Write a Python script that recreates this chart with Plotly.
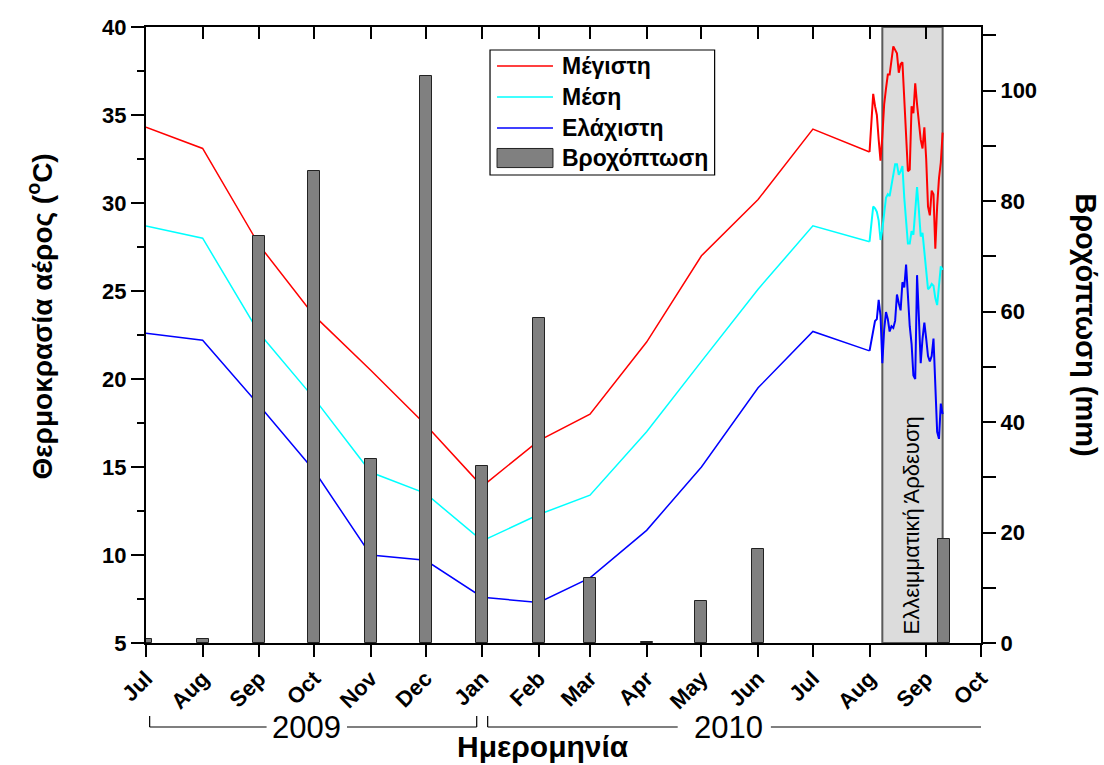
import plotly.graph_objects as go

# ---------------- data ----------------
month_dates = ["2009-07-01", "2009-08-01", "2009-09-01", "2009-10-01", "2009-11-01",
               "2009-12-01", "2010-01-01", "2010-02-01", "2010-03-01", "2010-04-01",
               "2010-05-01", "2010-06-01", "2010-07-01", "2010-08-01"]
t_max_month = [34.3, 33.1, 27.6, 23.6, 20.5, 17.4, 13.9, 16.5, 18.0, 22.1, 27.0, 30.2, 34.2, 32.9]
t_mean_month = [28.7, 28.0, 22.6, 18.9, 14.7, 13.5, 10.8, 12.3, 13.4, 17.0, 21.0, 25.1, 28.7, 27.8]
t_min_month = [22.6, 22.2, 18.5, 14.8, 10.0, 9.7, 7.6, 7.3, 8.7, 11.4, 15.0, 19.5, 22.7, 21.6]

daily_dates = ["2010-08-%02d" % d for d in range(1, 32)] + ["2010-09-%02d" % d for d in range(1, 11)]
t_max_daily = [32.9, 34.8, 36.2, 35.5, 35.0, 33.6, 32.4, 33.8, 35.6, 36.5, 37.3, 37.3, 38.2,
               38.9, 38.7, 38.5, 37.4, 37.9, 38.0, 36.0, 33.9, 31.8, 31.9, 35.5, 35.1, 36.8,
               35.6, 34.5, 33.6, 33.1, 34.3, 32.5, 29.8, 29.3, 30.7, 30.5, 27.4, 29.8, 31.4,
               32.3, 34.0]
t_mean_daily = [27.8, 29.0, 29.8, 29.7, 29.5, 29.0, 27.9, 28.5, 29.5, 30.3, 30.5, 30.4, 31.0,
                31.6, 32.2, 32.2, 31.6, 31.8, 32.1, 30.3, 28.7, 27.7, 27.7, 28.4, 28.2, 29.5,
                30.9, 29.6, 28.1, 28.3, 27.3, 26.0, 25.1, 25.2, 25.4, 25.3, 24.6, 24.2, 25.5,
                26.4, 26.2]
t_min_daily = [21.6, 22.1, 22.6, 23.3, 23.4, 24.5, 23.6, 20.9, 22.8, 23.8, 23.4, 22.7, 23.0,
               22.9, 23.3, 24.8, 24.3, 23.9, 25.5, 25.2, 26.5, 24.5, 23.0, 22.0, 20.2, 20.0,
               25.9, 23.5, 20.9, 22.3, 23.2, 22.3, 21.3, 21.0, 21.3, 22.3, 19.5, 17.0, 16.6,
               18.6, 18.0]

rain_dates = ["2009-07-01", "2009-08-01", "2009-09-01", "2009-10-01", "2009-11-01",
              "2009-12-01", "2010-01-01", "2010-02-01", "2010-03-01", "2010-04-01",
              "2010-05-01", "2010-06-01", "2010-09-11"]
rain_mm = [0.7, 0.8, 73.7, 85.4, 33.3, 102.7, 32.1, 58.9, 11.7, 0.2, 7.6, 17.0, 18.9]

x_tick_labels = ["Jul", "Aug", "Sep", "Oct", "Nov", "Dec", "Jan", "Feb", "Mar", "Apr",
                 "May", "Jun", "Jul", "Aug", "Sep", "Oct"]
x_tick_vals = ["2009-07-01", "2009-08-01", "2009-09-01", "2009-10-01", "2009-11-01",
               "2009-12-01", "2010-01-01", "2010-02-01", "2010-03-01", "2010-04-01",
               "2010-05-01", "2010-06-01", "2010-07-01", "2010-08-01", "2010-09-01",
               "2010-10-01"]

series_names = ["Μέγιστη", "Μέση", "Ελάχιστη", "Βροχόπτωση"]
series_colors = ["#ff0000", "#00ffff", "#0000ff", "#808080"]

deficit_start, deficit_end = "2010-08-08", "2010-09-10"
x_range = ["2009-07-01", "2010-10-01"]

FONT = "Arial, Liberation Sans, sans-serif"
DAY_MS = 86400000

fig = go.Figure()

# rainfall bars (secondary axis)
fig.add_trace(go.Bar(x=rain_dates, y=rain_mm, yaxis="y2", width=6.6 * DAY_MS,
                     marker=dict(color=series_colors[3], line=dict(color="#222222", width=1)),
                     name=series_names[3], showlegend=False))

for mvals, dvals, col, nm in [(t_max_month, t_max_daily, series_colors[0], series_names[0]),
                              (t_mean_month, t_mean_daily, series_colors[1], series_names[1]),
                              (t_min_month, t_min_daily, series_colors[2], series_names[2])]:
    fig.add_trace(go.Scatter(x=month_dates, y=mvals, mode="lines", name=nm,
                             line=dict(color=col, width=1.5), showlegend=False))
    fig.add_trace(go.Scatter(x=daily_dates, y=dvals, mode="lines", name=nm,
                             line=dict(color=col, width=2), showlegend=False))

# dummy trace to show the top axis
fig.add_trace(go.Scatter(x=x_range, y=[None, None], xaxis="x2", showlegend=False, hoverinfo="skip"))

# shaded deficit irrigation period
fig.add_shape(type="rect", xref="x", yref="paper", x0=deficit_start, x1=deficit_end, y0=0, y1=1,
              fillcolor="#dcdcdc", line=dict(color="#5a5a5a", width=2), layer="below")
fig.add_annotation(x="2010-08-24", xref="x", y=0.19, yref="paper", text="Ελλειμματική Άρδευση",
                   textangle=-90, showarrow=False, xanchor="center", yanchor="middle",
                   font=dict(family=FONT, size=22, color="black"))

fig.update_layout(
    width=1104, height=765,
    margin=dict(l=146, r=123, t=27, b=122),
    paper_bgcolor="white", plot_bgcolor="white",
    font=dict(family=FONT, color="black"),
    bargap=0,
    xaxis=dict(type="date", range=x_range, tickvals=x_tick_vals, ticktext=x_tick_labels,
               tickangle=-45, ticks="outside", ticklen=12, tickwidth=2, tickcolor="black",
               showline=True, linecolor="black", linewidth=2, showgrid=False, zeroline=False,
               tickfont=dict(family=FONT, size=22, color="black", weight="bold")),
    xaxis2=dict(type="date", range=x_range, overlaying="x", side="top", tickvals=x_tick_vals,
                ticks="inside", ticklen=12, tickwidth=2, tickcolor="black", showticklabels=False,
                showline=True, linecolor="black", linewidth=2, showgrid=False, zeroline=False),
    yaxis=dict(range=[5, 40], dtick=5, tick0=5, ticks="outside", ticklen=13, tickwidth=2,
               tickcolor="black", showline=True, linecolor="black", linewidth=2, showgrid=False,
               zeroline=False, tickfont=dict(family=FONT, size=22, color="black", weight="bold"),
               minor=dict(dtick=2.5, tick0=5, ticks="outside", ticklen=7, tickwidth=2,
                          tickcolor="black")),
    yaxis2=dict(range=[0, 111.5], dtick=20, tick0=0, overlaying="y", side="right",
                ticks="outside", ticklen=13, tickwidth=2, tickcolor="black", showline=True,
                linecolor="black", linewidth=2, showgrid=False, zeroline=False,
                tickfont=dict(family=FONT, size=22, color="black", weight="bold"),
                minor=dict(dtick=10, tick0=0, ticks="outside", ticklen=13, tickwidth=2,
                           tickcolor="black")),
)

# axis titles
fig.add_annotation(text="Θερμοκρασία αέρος (<sup>o</sup>C)", xref="paper", yref="paper",
                   x=-0.127, y=0.53, textangle=-90, showarrow=False, xanchor="center",
                   yanchor="middle",
                   font=dict(family=FONT, size=28, color="black", weight="bold"))
fig.add_annotation(text="Βροχόπτωση (mm)", xref="paper", yref="paper",
                   x=1.1257, y=0.516, textangle=90, showarrow=False, xanchor="center",
                   yanchor="middle",
                   font=dict(family=FONT, size=29, color="black", weight="bold"))
fig.add_annotation(text="Ημερομηνία", xref="paper", yref="paper", x=0.4755, y=-0.198,
                   yanchor="bottom", showarrow=False,
                   font=dict(family=FONT, size=30, color="black", weight="bold"))

# year brackets
yb_top, yb_bot = -0.1185, -0.1364
for x0, x1, xt, lbl, xa, xb in [("2009-07-03", "2009-12-29", "2009-09-27", "2009", "2009-09-05", "2009-10-19"),
                                ("2010-01-04", "2010-10-02", "2010-05-16", "2010", "2010-04-18", "2010-06-08")]:
    fig.add_shape(type="line", xref="x", yref="paper", x0=x0, x1=x0, y0=yb_top, y1=yb_bot,
                  line=dict(color="black", width=1.2))
    fig.add_shape(type="line", xref="x", yref="paper", x0=x1, x1=x1, y0=yb_top, y1=yb_bot,
                  line=dict(color="black", width=1.2))
    fig.add_shape(type="line", xref="x", yref="paper", x0=x0, x1=xa, y0=yb_bot, y1=yb_bot,
                  line=dict(color="black", width=1.2))
    fig.add_shape(type="line", xref="x", yref="paper", x0=xb, x1=x1, y0=yb_bot, y1=yb_bot,
                  line=dict(color="black", width=1.2))
    fig.add_annotation(text=lbl, xref="x", yref="paper", x=xt, y=yb_bot, showarrow=False,
                       yanchor="middle", font=dict(family=FONT, size=31, color="black"))

# custom legend
lx0, lx1 = 0.412, 0.681
fig.add_shape(type="rect", xref="paper", yref="paper", x0=lx0, x1=lx1, y0=0.7597, y1=0.9627,
              line=dict(color="black", width=1.2), fillcolor="white")
row_y = [0.9367, 0.8864, 0.836, 0.7873]
sx0, sx1 = 0.4204, 0.4874
for i in range(3):
    fig.add_shape(type="line", xref="paper", yref="paper", x0=sx0, x1=sx1, y0=row_y[i], y1=row_y[i],
                  line=dict(color=series_colors[i], width=1.5))
fig.add_shape(type="rect", xref="paper", yref="paper", x0=sx0, x1=sx1, y0=row_y[3] - 0.0155,
              y1=row_y[3] + 0.0155, fillcolor=series_colors[3], line=dict(color="#222222", width=1))
for i in range(4):
    fig.add_annotation(text=series_names[i], xref="paper", yref="paper", x=0.4958, y=row_y[i],
                       xanchor="left", yanchor="middle", showarrow=False,
                       font=dict(family=FONT, size=23, color="black", weight="bold"))

fig.write_html("out.html")
